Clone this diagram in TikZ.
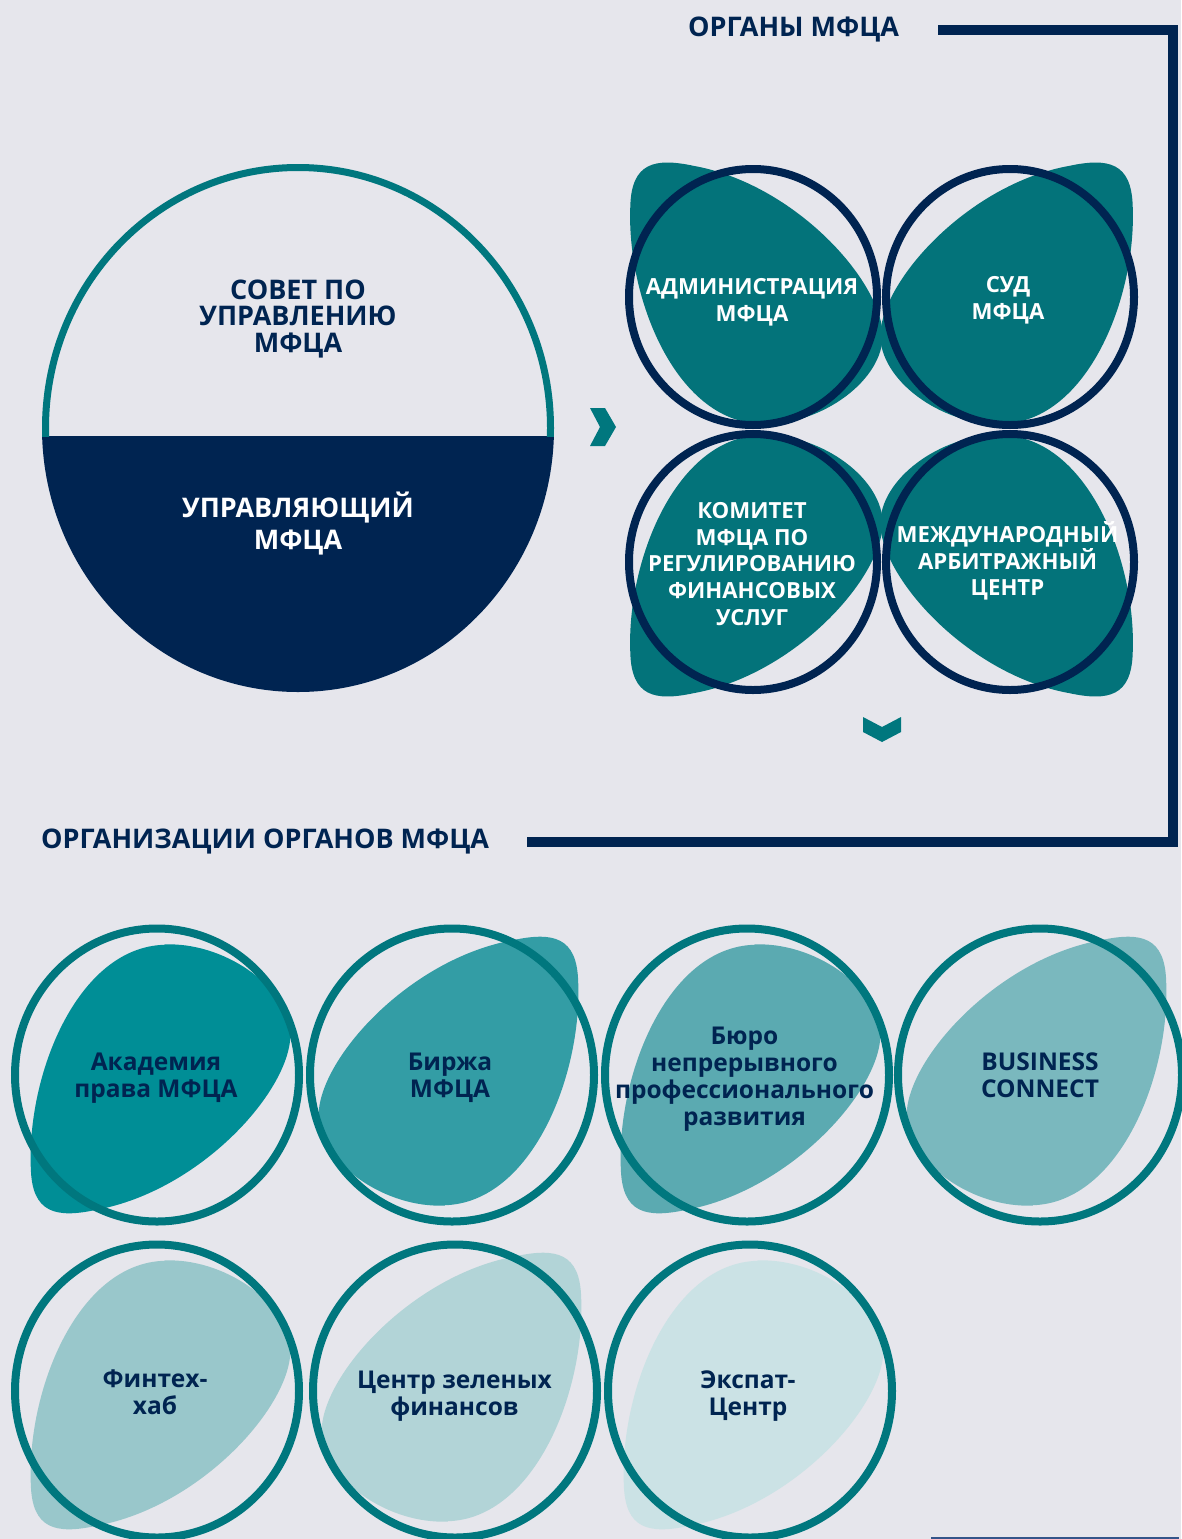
\documentclass[tikz,border=0pt]{standalone}
\usepackage{fontspec}
\setmainfont{Open Sans}
\definecolor{bgc}{HTML}{E6E6EC}
\definecolor{navy}{HTML}{002451}
\definecolor{ring}{HTML}{00777E}
\definecolor{tblob}{HTML}{03737A}
\definecolor{bA}{HTML}{008E96}
\definecolor{bB}{HTML}{339DA5}
\definecolor{bC}{HTML}{5BAAB1}
\definecolor{bD}{HTML}{7AB8BE}
\definecolor{bE}{HTML}{99C7CB}
\definecolor{bF}{HTML}{B2D4D7}
\definecolor{bG}{HTML}{CBE2E5}
\definecolor{stub}{HTML}{34558A}
\newcommand\myfs[2]{\fontsize{#1}{#2}\selectfont\bfseries}
\newcommand\blobpath{(0.05,-0.90) .. controls (0.45,-0.92) and (0.90,-0.62) .. (0.92,-0.29) .. controls (0.93,0.10) and (0.30,0.80) .. (-0.42,0.93) .. controls (-0.70,0.99) and (-0.86,0.95) .. (-0.87,0.65) .. controls (-0.90,0.0) and (-0.55,-0.88) .. cycle}
\begin{document}
\begin{tikzpicture}[x=1pt,y=-1pt,
  ttl/.style={font=\myfs{27}{30}, text=navy, inner sep=0},
  bigsov/.style={font=\myfs{27}{26.8}, text=navy, align=center, inner sep=0},
  bigupr/.style={font=\myfs{27}{32}, text=white, align=center, inner sep=0},
  wtxt/.style={font=\myfs{22.2}{26.6}, text=white, align=center, inner sep=0},
  btxt/.style={font=\myfs{24.5}{26.8}, text=navy, align=center, inner sep=0},
  topring/.style={draw=navy, line width=8},
  botring/.style={draw=ring, line width=8},
  frame/.style={draw=navy, line width=10, line join=miter}
]
\useasboundingbox (0,0) rectangle (1181,1539);
\fill[bgc] (0,0) rectangle (1181,1539);

% headers and frame
\node[ttl, anchor=base west] (h1) at (688,36) {ОРГАНЫ МФЦА};
\node[ttl, anchor=base west] (h2) at (41,848) {ОРГАНИЗАЦИИ ОРГАНОВ МФЦА};
\coordinate (f1) at (938,30);
\coordinate (f2) at (1173,30);
\coordinate (f3) at (1173,841.5);
\coordinate (f4) at (527,841.5);
\draw[frame] (f1) -- (f2) -- (f3) -- (f4);

% big circle
\begin{scope}
  \clip (298,428) ellipse [x radius=256, y radius=264];
  \fill[navy] (0,436) rectangle (600,720);
\end{scope}
\begin{scope}
  \clip (0,100) rectangle (600,436);
  \draw[ring, line width=7] (298,428) ellipse [x radius=252.5, y radius=260.5];
\end{scope}
\node[bigsov] (sovet) at (298,319) {СОВЕТ ПО\\УПРАВЛЕНИЮ\\МФЦА};
\node[bigupr] (upr) at (298,524) {УПРАВЛЯЮЩИЙ\\МФЦА};

% chevrons
\fill[ring] (590,408) -- (605,408) -- (616,427) -- (605,446) -- (590,446) -- (600,427) -- cycle;
\fill[ring] (863,717) -- (882,727) -- (901,717) -- (901,732) -- (882,742) -- (863,732) -- cycle;

% top group blobs
\fill[tblob, shift={(753,297)}, xscale=141, yscale=-141] \blobpath;
\fill[tblob, shift={(1010,297)}, xscale=-141, yscale=-141] \blobpath;
\fill[tblob, shift={(753,562)}, xscale=141, yscale=141] \blobpath;
\fill[tblob, shift={(1010,562)}, xscale=-141, yscale=141] \blobpath;
\draw[topring] (753,297) ellipse [x radius=124, y radius=128];
\draw[topring] (1010,297) ellipse [x radius=124, y radius=128];
\draw[topring] (753,562) ellipse [x radius=124, y radius=128];
\draw[topring] (1010,562) ellipse [x radius=124, y radius=128];
\node[wtxt] (adm) at (752,302) {АДМИНИСТРАЦИЯ\\МФЦА};
\node[wtxt] (sud) at (1008,300) {СУД\\МФЦА};
\node[wtxt] (kom) at (752,564) {КОМИТЕТ\\МФЦА ПО\\РЕГУЛИРОВАНИЮ\\ФИНАНСОВЫХ\\УСЛУГ};
\node[wtxt] (arb) at (1007.5,561) {МЕЖДУНАРОДНЫЙ\\АРБИТРАЖНЫЙ\\ЦЕНТР};

% bottom group blobs
\fill[bA, shift={(157,1075)}, xscale=145, yscale=145] \blobpath;
\fill[bB, shift={(452,1075)}, xscale=-145, yscale=-145] \blobpath;
\fill[bC, shift={(747,1075)}, xscale=145, yscale=145] \blobpath;
\fill[bD, shift={(1040,1075)}, xscale=-145, yscale=-145] \blobpath;
\fill[bE, shift={(157,1391)}, xscale=145, yscale=145] \blobpath;
\fill[bF, shift={(455,1391)}, xscale=-145, yscale=-145] \blobpath;
\fill[bG, shift={(750,1391)}, xscale=145, yscale=145] \blobpath;
\draw[botring] (157,1075) ellipse [x radius=142, y radius=146.5];
\draw[botring] (452,1075) ellipse [x radius=142, y radius=146.5];
\draw[botring] (747,1075) ellipse [x radius=142, y radius=146.5];
\draw[botring] (1040,1075) ellipse [x radius=142, y radius=146.5];
\draw[botring] (157,1391) ellipse [x radius=142, y radius=146.5];
\draw[botring] (455,1391) ellipse [x radius=142, y radius=146.5];
\draw[botring] (750,1391) ellipse [x radius=142, y radius=146.5];
\node[btxt] (akad) at (156,1078.5) {Академия\\права МФЦА};
\node[btxt] (birzha) at (450,1077.5) {Биржа\\МФЦА};
\node[btxt] (buro) at (744.5,1079) {Бюро\\непрерывного\\профессионального\\развития};
\node[btxt] (bc) at (1040,1075.5) {BUSINESS\\CONNECT};
\node[btxt] (fint) at (155,1392) {Финтех-\\хаб};
\node[btxt] (green) at (454.5,1396) {Центр зеленых\\финансов};
\node[btxt] (expat) at (748,1396) {Экспат-\\Центр};

% bottom-right stub line
\coordinate (s1) at (931,1538);
\coordinate (s2) at (1179,1538);
\draw[stub, line width=2] (s1) -- (s2);
\end{tikzpicture}
\end{document}
